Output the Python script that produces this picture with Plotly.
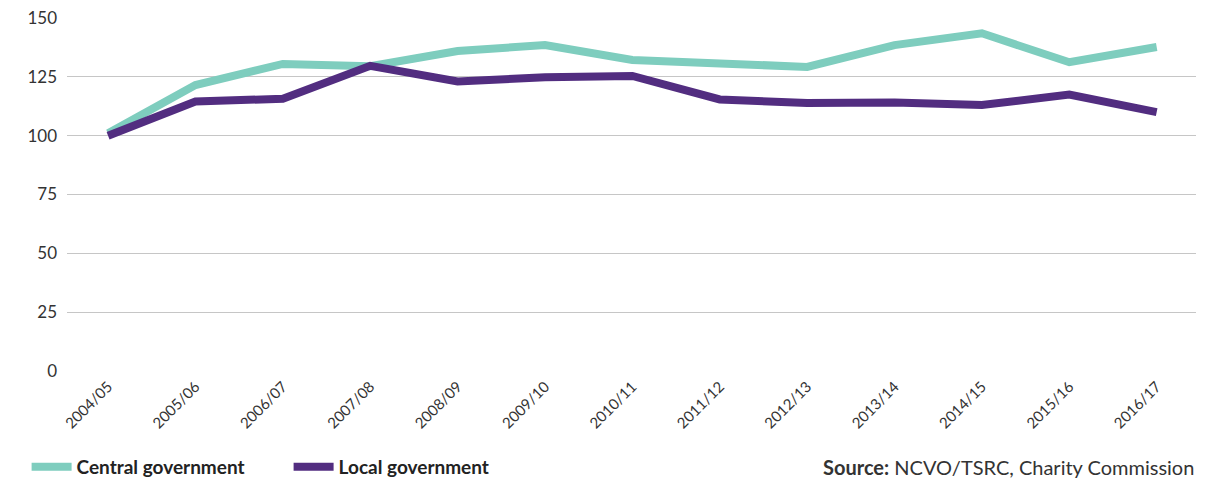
import plotly.graph_objects as go

years = ["2004/05", "2005/06", "2006/07", "2007/08", "2008/09", "2009/10", "2010/11",
         "2011/12", "2012/13", "2013/14", "2014/15", "2015/16", "2016/17"]
central_gov = [101, 121.5, 130.5, 129.5, 136, 138.5, 132.2, 131, 129.2, 138.5, 143.5, 131.2, 137.7]
local_gov = [100, 114.5, 115.7, 129.7, 123, 124.8, 125.4, 115.4, 113.9, 114.1, 113, 117.5, 110]
y_ticks = [0, 25, 50, 75, 100, 125, 150]

CENTRAL = "#7ecdbe"
LOCAL = "#522d80"
FONT = "Lato"

fig = go.Figure()
fig.add_trace(go.Scatter(x=years, y=central_gov, name="Central government", mode="lines",
                         line=dict(color=CENTRAL, width=8)))
fig.add_trace(go.Scatter(x=years, y=local_gov, name="Local government", mode="lines",
                         line=dict(color=LOCAL, width=8)))

fig.update_layout(
    width=1209, height=478,
    margin=dict(l=67, r=13, t=18, b=107, autoexpand=False),
    plot_bgcolor="white", paper_bgcolor="white",
    font=dict(family=FONT, color="#333333"),
    showlegend=True,
    legend=dict(orientation="h", x=0.022, y=0.023, xanchor="left", yanchor="middle",
                xref="container", yref="container",
                font=dict(family=FONT, size=19, color="#222222", weight="bold"),
                itemwidth=40, entrywidthmode="pixels", entrywidth=207,
                bgcolor="rgba(0,0,0,0)"),
    xaxis=dict(type="category", range=[-0.47, 12.45], tickangle=-45, automargin=False,
               showgrid=False, zeroline=False, showline=False, ticks="",
               ticklabelstandoff=3,
               tickfont=dict(family=FONT, size=15, color="#333333")),
    yaxis=dict(range=[0, 150], tickvals=y_ticks, showgrid=True, gridcolor="#c6c6c6",
               gridwidth=1, zeroline=False, showline=False, ticks="", automargin=False,
               ticklabelstandoff=9,
               tickfont=dict(family=FONT, size=17, color="#333333")),
    annotations=[dict(text="<b>Source:</b> NCVO/TSRC, Charity Commission",
                      xref="paper", yref="paper", x=1.0, y=-0.272, xanchor="right",
                      yanchor="middle", showarrow=False,
                      font=dict(family=FONT, size=20, color="#333333"))],
)

fig.write_html("out.html")
